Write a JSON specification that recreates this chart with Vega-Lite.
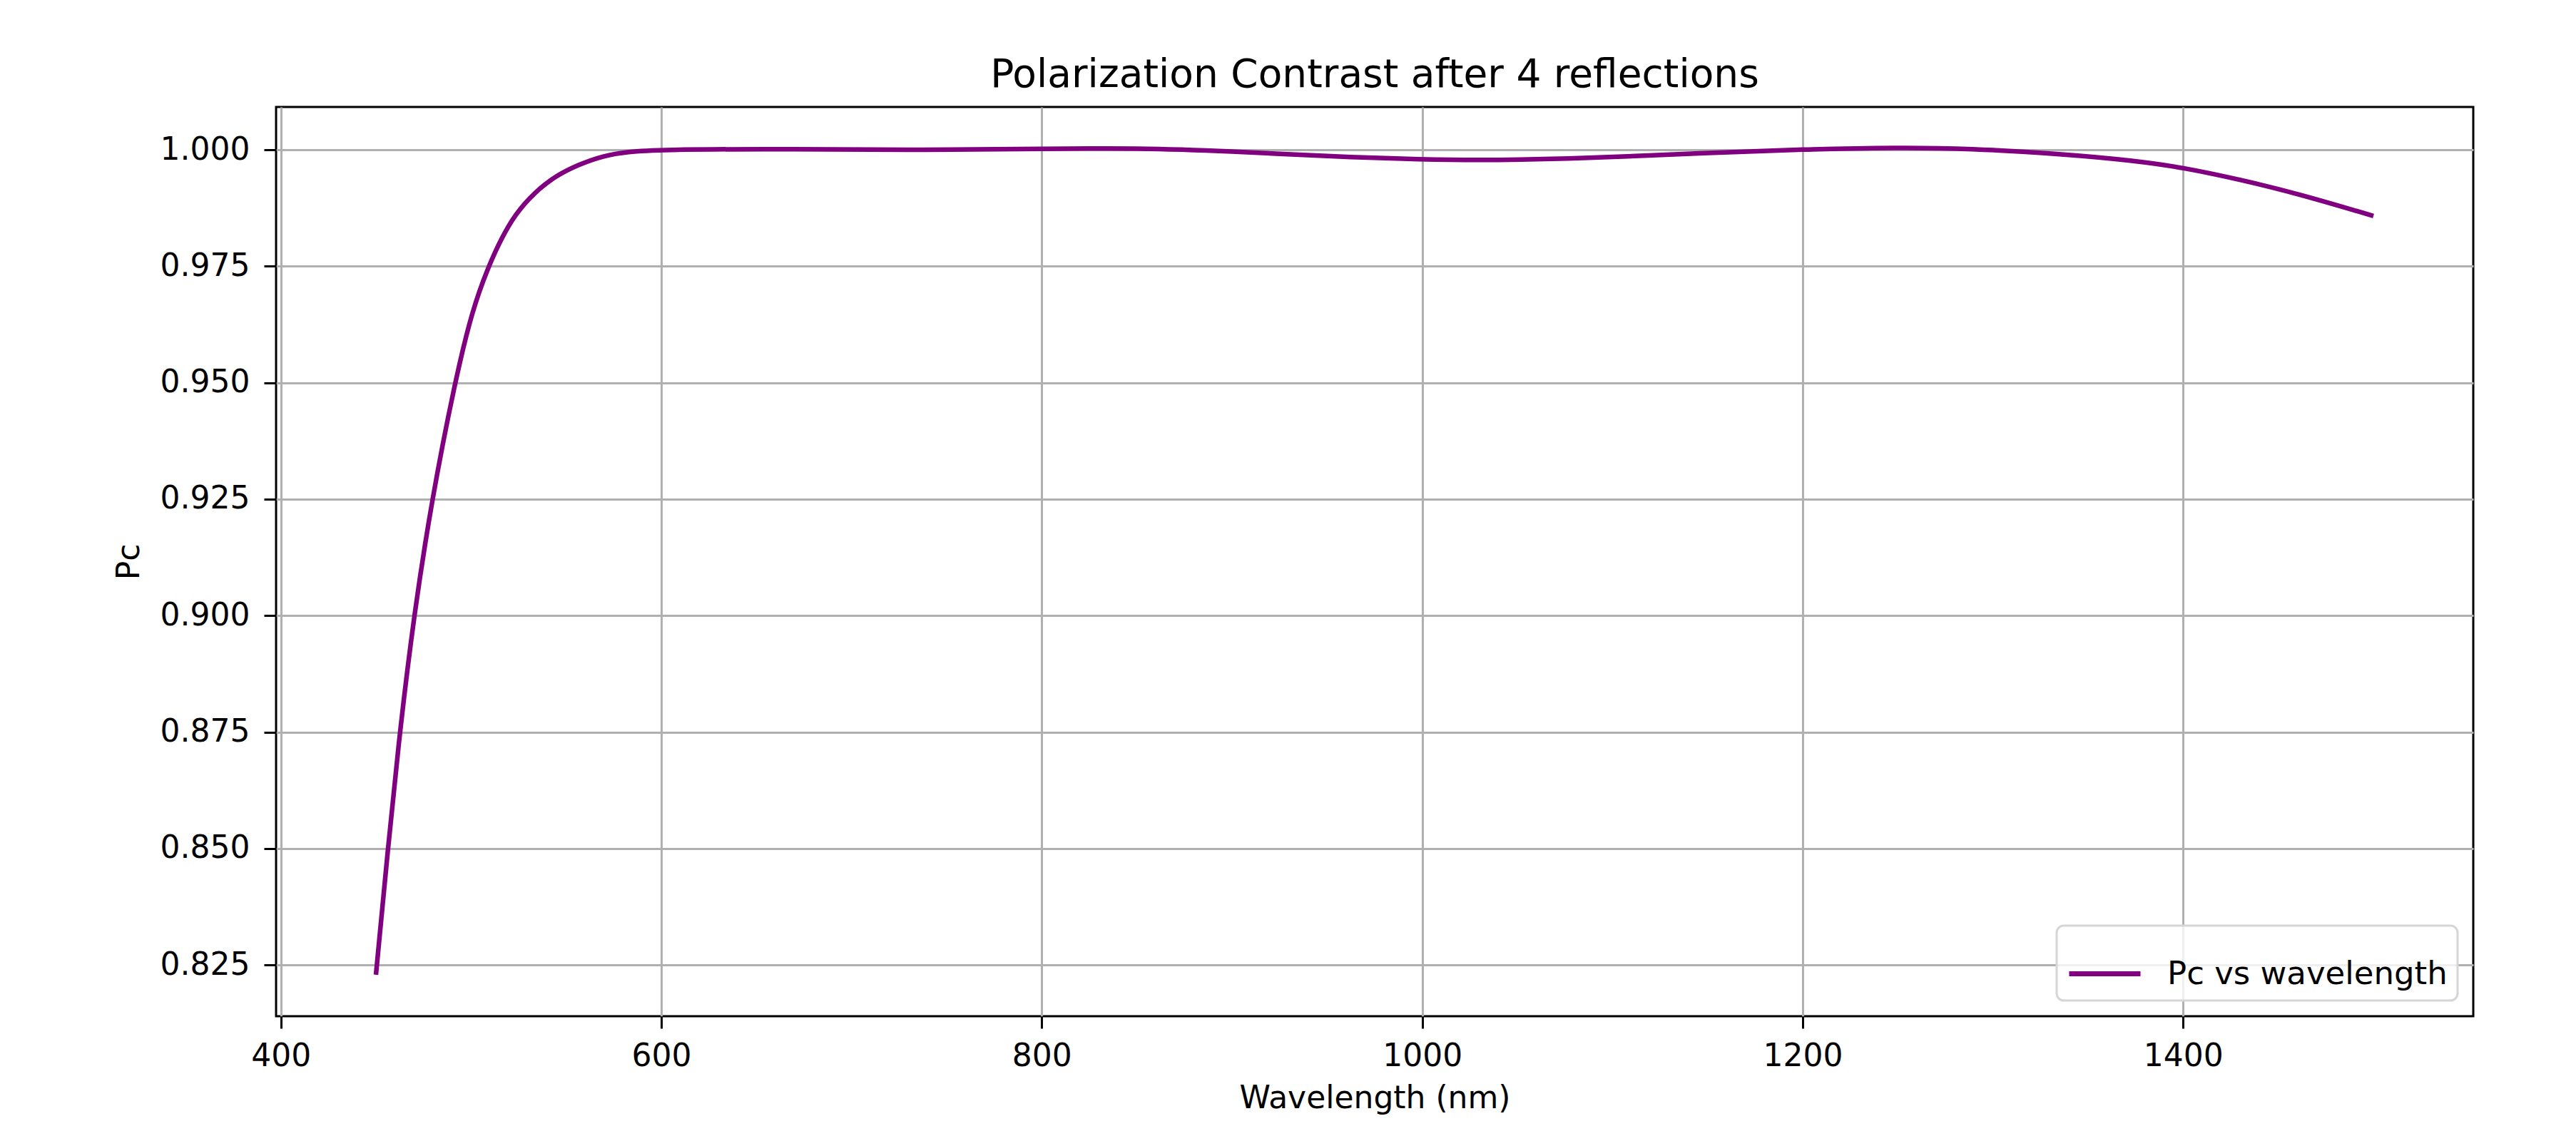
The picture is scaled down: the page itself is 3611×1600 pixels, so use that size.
{
  "$schema": "https://vega.github.io/schema/vega-lite/v6.json",
  "description": "Polarization contrast vs wavelength after 4 reflections",
  "width": 3080,
  "height": 1275,
  "autosize": {"type": "none"},
  "padding": {"left": 387, "top": 150, "right": 144, "bottom": 175},
  "background": "white",
  "title": {
    "text": "Polarization Contrast after 4 reflections",
    "font": "DejaVu Sans",
    "fontSize": 55,
    "fontWeight": "normal",
    "color": "black",
    "anchor": "middle",
    "offset": 16
  },
  "data": {
    "values": [
      {"wavelength": 450, "pc": 0.8229},
      {"wavelength": 456.3, "pc": 0.85},
      {"wavelength": 462.5, "pc": 0.875},
      {"wavelength": 470, "pc": 0.9002},
      {"wavelength": 479.4, "pc": 0.925},
      {"wavelength": 491.3, "pc": 0.9498},
      {"wavelength": 500.7, "pc": 0.9658},
      {"wavelength": 509.4, "pc": 0.9752},
      {"wavelength": 515.7, "pc": 0.9808},
      {"wavelength": 523.2, "pc": 0.9862},
      {"wavelength": 533.2, "pc": 0.9908},
      {"wavelength": 544.4, "pc": 0.9944},
      {"wavelength": 556.9, "pc": 0.9969},
      {"wavelength": 569.4, "pc": 0.9987},
      {"wavelength": 581.9, "pc": 0.9996},
      {"wavelength": 600, "pc": 1.0},
      {"wavelength": 653, "pc": 1.0002},
      {"wavelength": 715, "pc": 1.0},
      {"wavelength": 750, "pc": 1.0},
      {"wavelength": 800, "pc": 1.0002},
      {"wavelength": 850, "pc": 1.0004},
      {"wavelength": 900, "pc": 0.9997},
      {"wavelength": 950, "pc": 0.9986},
      {"wavelength": 1000, "pc": 0.9979},
      {"wavelength": 1038, "pc": 0.99775},
      {"wavelength": 1088, "pc": 0.9982},
      {"wavelength": 1150, "pc": 0.99935},
      {"wavelength": 1200, "pc": 1.0001},
      {"wavelength": 1250, "pc": 1.0005},
      {"wavelength": 1287, "pc": 1.0003},
      {"wavelength": 1337, "pc": 0.9991},
      {"wavelength": 1374, "pc": 0.9977},
      {"wavelength": 1400, "pc": 0.9962},
      {"wavelength": 1430, "pc": 0.9936},
      {"wavelength": 1461, "pc": 0.9905},
      {"wavelength": 1500, "pc": 0.9858}
    ]
  },
  "mark": {"type": "line", "strokeWidth": 6.5, "interpolate": "basis"},
  "encoding": {
    "x": {
      "field": "wavelength",
      "type": "quantitative",
      "scale": {"domain": [397.5, 1552.5], "nice": false, "zero": false},
      "axis": {
        "title": "Wavelength (nm)",
        "values": [400, 600, 800, 1000, 1200, 1400],
        "format": "d",
        "labelPadding": 17,
        "titlePadding": 15
      }
    },
    "y": {
      "field": "pc",
      "type": "quantitative",
      "scale": {"domain": [0.814, 1.0092], "nice": false, "zero": false},
      "axis": {
        "title": "Pc",
        "values": [0.825, 0.85, 0.875, 0.9, 0.925, 0.95, 0.975, 1.0],
        "format": ".3f",
        "labelPadding": 20,
        "titlePadding": 21
      }
    },
    "color": {
      "datum": "Pc vs wavelength",
      "scale": {"range": ["#800080"]},
      "legend": {
        "title": null,
        "orient": "bottom-right",
        "offset": 22,
        "symbolType": "stroke",
        "symbolSize": 10000,
        "symbolStrokeWidth": 7,
        "labelFont": "DejaVu Sans",
        "labelFontSize": 45,
        "labelColor": "black",
        "labelLimit": 0,
        "labelOffset": 34,
        "padding": 14,
        "fillColor": "rgba(255,255,255,0.8)",
        "strokeColor": "#d6d6d6",
        "cornerRadius": 10
      }
    }
  },
  "config": {
    "view": {"stroke": "black", "strokeWidth": 3},
    "legend": {"strokeWidth": 3},
    "axis": {
      "domain": false,
      "grid": true,
      "gridColor": "#b0b0b0",
      "gridWidth": 3,
      "tickColor": "black",
      "tickSize": 17,
      "tickWidth": 3,
      "labelFont": "DejaVu Sans",
      "labelFontSize": 44,
      "labelColor": "black",
      "titleFont": "DejaVu Sans",
      "titleFontSize": 44,
      "titleFontWeight": "normal",
      "titleColor": "black"
    }
  }
}
